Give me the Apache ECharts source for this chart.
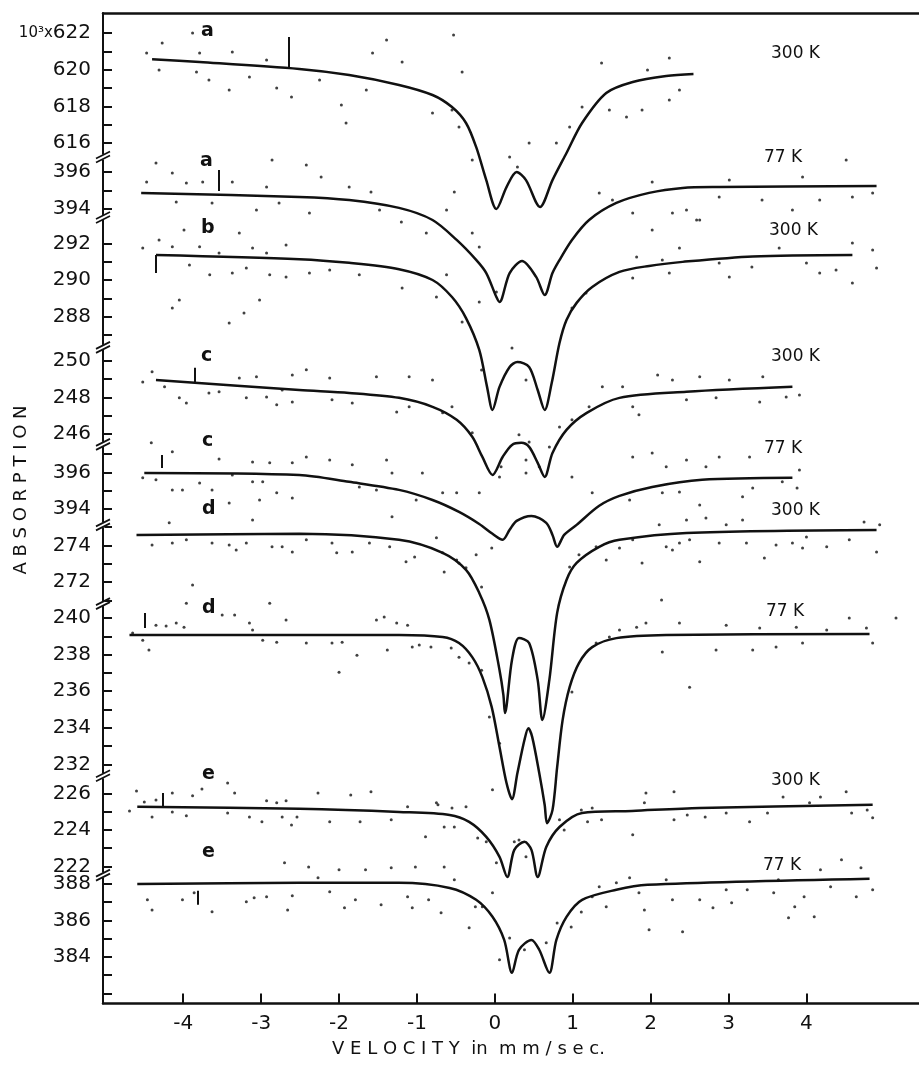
<!DOCTYPE html>
<html>
<head>
<meta charset="utf-8">
<title>Absorption vs velocity</title>
<script src="https://cdn.jsdelivr.net/npm/echarts@6/dist/echarts.min.js"></script>
<style>
	html, body { margin: 0; padding: 0; background: #fff; }
	#chart { width: 919px; height: 1071px; }
</style>
</head>
<body>
<div id="chart"></div>
<script type="text/javascript">
	// velocity axis (mm/sec)
	var velocityTicks = [-4, -3, -2, -1, 0, 1, 2, 3, 4];
	var velocityMin = -5.03;
	var velocityMax = 5.445;

	// broken absorption axis: one panel per spectrum, top to bottom (10^3 counts)
	var panelTop = [623.1, 396.8, 293.4, 250.7, 397.5, 275.1, 240.76, 226.93, 388.44];
	var panelBottom = [615.2, 393.5, 286.3, 245.4, 393.1, 270.8, 231.35, 221.5, 381.45];
	var panelLabels = [
		[622, 620, 618, 616], [396, 394], [292, 290, 288], [250, 248, 246], [396, 394],
		[274, 272], [240, 238, 236, 234, 232], [226, 224, 222], [388, 386, 384]
	];
	var panelTicks = [
		[622, 621, 620, 619, 618, 617, 616], [396, 395, 394], [292, 291, 290, 289, 288, 287],
		[250, 249, 248, 247, 246], [397, 396, 395, 394], [275, 274, 273, 272, 271],
		[240, 239, 238, 237, 236, 235, 234, 233, 232], [226, 225, 224, 223, 222],
		[388, 387, 386, 385, 384, 383, 382]
	];

	var sampleNames = ['a', 'a', 'b', 'c', 'c', 'd', 'd', 'e', 'e'];
	var temperatures = ['300 K', '77 K', '300 K', '300 K', '77 K', '300 K', '77 K', '300 K', '77 K'];

	// fitted curves [velocity, absorption]
	var curveA300 = [[-4.40,620.57],[-3.79,620.42],[-2.51,620.04],[-1.87,619.71],[-1.23,619.17],[-0.80,618.62],[-0.55,617.96],[-0.37,617.09],[-0.24,615.78],[-0.11,613.97],[0.02,612.39],[0.15,613.59],[0.28,614.41],[0.40,613.97],[0.58,612.50],[0.74,613.97],[0.92,615.45],[1.12,617.09],[1.43,618.73],[1.77,619.33],[2.20,619.66],[2.55,619.77]];
	var curveA77 = [[-4.54,394.87],[-2.51,394.65],[-1.87,394.48],[-1.23,394.05],[-0.80,393.39],[-0.49,392.30],[-0.24,391.21],[-0.11,390.49],[0.02,389.18],[0.06,388.91],[0.19,390.49],[0.35,391.15],[0.53,390.28],[0.64,389.29],[0.74,390.49],[0.83,391.20],[0.99,392.30],[1.21,393.39],[1.56,394.32],[1.98,394.87],[2.41,395.14],[2.88,395.19],[4.90,395.25]];
	var curveB300 = [[-4.35,291.38],[-2.51,291.15],[-1.87,290.95],[-1.23,290.60],[-0.80,290.01],[-0.55,289.08],[-0.37,287.93],[-0.20,286.19],[-0.10,284.17],[-0.03,282.91],[0.06,284.17],[0.19,285.26],[0.29,285.53],[0.44,285.26],[0.55,284.00],[0.64,282.91],[0.73,284.38],[0.83,286.57],[0.92,287.83],[1.05,288.76],[1.25,289.63],[1.60,290.45],[1.98,290.78],[2.41,291.00],[3.31,291.30],[4.59,291.38]];
	var curveC300 = [[-4.35,248.95],[-2.51,248.40],[-1.87,248.24],[-1.23,247.97],[-0.80,247.48],[-0.49,246.77],[-0.29,245.84],[-0.16,244.74],[-0.03,243.76],[0.10,244.74],[0.22,245.40],[0.34,245.51],[0.44,245.29],[0.55,244.42],[0.64,243.65],[0.74,244.96],[0.92,246.22],[1.18,247.15],[1.60,247.97],[2.46,248.30],[3.82,248.57]];
	var curveC77 = [[-4.50,395.97],[-2.51,395.86],[-1.87,395.48],[-1.23,395.04],[-0.80,394.49],[-0.46,393.84],[-0.20,393.18],[-0.03,392.64],[0.10,392.31],[0.19,392.86],[0.28,393.35],[0.47,393.62],[0.66,393.24],[0.74,392.58],[0.80,391.93],[0.89,392.58],[1.05,393.13],[1.34,394.17],[1.60,394.71],[2.02,395.20],[2.66,395.59],[3.82,395.70]];
	var curveD300 = [[-4.60,274.58],[-2.51,274.64],[-1.23,274.31],[-0.67,273.60],[-0.37,272.67],[-0.20,271.41],[-0.07,269.94],[0.06,267.20],[0.11,265.83],[0.13,264.85],[0.22,267.75],[0.31,268.95],[0.44,268.68],[0.55,266.66],[0.61,264.47],[0.70,266.66],[0.80,270.32],[0.92,272.12],[1.05,273.05],[1.34,273.93],[1.60,274.31],[2.46,274.69],[4.90,274.85]];
	var curveD77 = [[-4.69,239.07],[-2.51,239.07],[-1.23,239.07],[-0.67,238.96],[-0.46,238.63],[-0.29,237.86],[-0.16,236.77],[-0.04,235.13],[0.06,232.95],[0.15,230.98],[0.22,230.10],[0.29,231.53],[0.38,233.33],[0.43,233.98],[0.48,233.49],[0.57,231.53],[0.64,229.78],[0.67,228.79],[0.74,229.50],[0.80,231.85],[0.87,234.42],[0.96,236.22],[1.08,237.54],[1.25,238.41],[1.56,238.90],[2.20,239.07],[4.81,239.12]];
	var curveE300 = [[-4.59,225.26],[-2.51,225.15],[-1.23,224.98],[-0.58,224.82],[-0.33,224.44],[-0.11,223.62],[0.06,222.53],[0.16,221.43],[0.25,222.91],[0.38,223.35],[0.47,222.91],[0.55,221.43],[0.66,223.07],[0.83,224.16],[1.12,224.93],[1.76,225.04],[2.63,225.20],[4.85,225.37]];
	var curveE77 = [[-4.59,387.99],[-2.51,388.05],[-1.23,388.05],[-0.58,387.77],[-0.24,387.12],[-0.03,386.19],[0.12,384.93],[0.22,383.13],[0.31,384.39],[0.47,384.93],[0.57,384.39],[0.70,383.13],[0.79,384.93],[0.92,386.19],[1.12,387.12],[1.56,387.67],[1.96,387.94],[4.81,388.27]];
	var curves = [curveA300, curveA77, curveB300, curveC300, curveC77, curveD300, curveD77, curveE300, curveE77];

	// measured counts [velocity, absorption]
	var dotsA300 = [[-4.47,620.91],[-4.27,621.46],[-3.88,622.01],[-3.79,620.91],[-4.31,619.99],[-3.83,619.88],[-3.67,619.44],[-3.41,618.89],[-3.37,620.97],[-3.15,619.60],[-2.93,620.53],[-2.80,619.00],[-2.61,618.51],[-2.25,619.44],[-1.97,618.07],[-1.91,617.09],[-1.65,618.89],[-1.57,620.91],[-1.39,621.62],[-1.19,620.42],[-0.80,617.64],[-0.53,621.90],[-0.55,617.80],[-0.42,619.88],[-0.46,616.87],[-0.29,615.07],[0.19,615.23],[0.29,614.68],[0.44,616.00],[0.79,616.00],[0.96,616.87],[1.12,617.96],[1.37,620.37],[1.47,617.80],[1.69,617.42],[1.89,617.80],[1.96,619.99],[2.24,618.35],[2.24,620.64],[2.37,618.89]];
	var dotsA77 = [[-4.35,396.50],[-4.47,395.47],[-4.14,395.96],[-3.96,395.41],[-3.75,395.47],[-4.09,394.37],[-3.63,394.32],[-3.37,395.47],[-3.06,393.94],[-2.86,396.67],[-2.93,395.19],[-2.77,394.32],[-2.42,396.40],[-2.23,395.74],[-1.87,395.19],[-1.59,394.92],[-2.38,393.77],[-1.48,393.94],[-1.20,393.28],[-0.88,392.68],[-0.62,393.94],[-0.52,394.92],[-0.29,392.68],[-0.20,391.91],[-0.20,388.91],[0.02,389.46],[1.34,394.87],[1.51,394.48],[1.77,393.77],[2.02,392.84],[2.02,395.47],[2.28,393.77],[2.59,393.39],[2.46,393.94],[2.88,394.65],[3.01,395.58],[3.43,394.48],[3.82,393.94],[3.95,395.74],[4.17,394.48],[4.51,396.67],[4.59,394.65],[4.85,394.87]];
	var dotsB300 = [[-4.52,291.76],[-4.31,292.20],[-4.14,291.82],[-3.99,292.74],[-3.79,291.82],[-3.92,290.83],[-3.66,290.29],[-3.54,291.49],[-3.37,290.39],[-3.28,292.58],[-3.19,290.67],[-3.11,291.76],[-2.93,291.49],[-2.89,290.29],[-2.68,291.92],[-2.68,290.18],[-4.05,288.92],[-4.14,288.48],[-3.41,287.66],[-3.22,288.21],[-3.02,288.92],[-2.38,290.39],[-2.12,290.56],[-1.74,290.29],[-1.19,289.57],[-0.75,289.08],[-0.62,290.29],[-0.42,287.72],[-0.17,285.09],[0.22,286.30],[0.40,284.55],[0.99,288.48],[1.17,289.30],[1.77,290.12],[1.82,291.27],[2.15,291.10],[2.37,291.76],[2.24,290.39],[2.63,293.29],[2.88,290.94],[3.01,290.18],[3.30,290.72],[3.65,291.76],[4.00,290.94],[4.17,290.39],[4.38,290.56],[4.59,292.03],[4.59,289.85],[4.85,291.65],[4.90,290.67]];
	var dotsC300 = [[-4.52,248.84],[-4.40,249.39],[-4.24,248.57],[-4.05,247.97],[-3.96,247.69],[-3.67,248.24],[-3.54,248.30],[-3.28,249.06],[-3.06,249.12],[-3.19,247.97],[-2.93,248.02],[-2.80,247.59],[-2.73,248.40],[-2.60,249.22],[-2.60,247.75],[-2.42,249.50],[-2.12,249.06],[-2.09,247.86],[-1.83,247.69],[-1.52,249.12],[-1.26,247.20],[-1.10,249.12],[-1.10,247.48],[-0.80,248.95],[-0.67,247.15],[-0.55,247.48],[-0.29,246.06],[0.08,244.20],[0.31,245.95],[0.40,244.58],[0.44,245.56],[0.70,245.29],[0.83,246.38],[0.99,246.77],[1.21,247.48],[1.38,248.57],[1.64,248.57],[1.77,247.48],[1.85,247.04],[2.09,249.22],[2.28,248.95],[2.46,247.86],[2.63,249.12],[2.84,247.97],[3.01,248.95],[3.40,247.75],[3.44,249.12],[3.74,248.02],[3.91,248.13]];
	var dotsC77 = [[-4.41,397.61],[-4.14,397.12],[-3.54,396.73],[-4.52,395.70],[-4.35,395.59],[-4.14,395.04],[-4.01,395.04],[-3.79,395.42],[-3.63,395.04],[-3.37,395.86],[-3.11,396.57],[-2.89,396.52],[-3.11,395.48],[-2.98,395.48],[-2.80,394.88],[-2.60,396.52],[-2.60,394.60],[-2.42,396.84],[-2.12,396.68],[-1.83,396.41],[-1.74,395.20],[-1.52,395.04],[-1.39,396.68],[-1.32,395.97],[-1.01,394.49],[-1.32,393.57],[-0.93,395.97],[-0.67,394.88],[-0.49,394.88],[-0.20,394.88],[0.06,395.75],[0.40,395.97],[0.57,396.30],[0.99,395.75],[1.25,394.88],[1.73,394.49],[1.77,396.84],[2.02,397.06],[2.15,394.88],[2.20,396.30],[2.37,394.93],[2.46,396.68],[2.71,396.30],[2.63,394.22],[2.88,396.84],[3.18,394.66],[3.27,396.84],[3.31,395.15],[3.69,395.48],[3.88,395.15],[3.91,396.13]];
	var dotsD300 = [[-4.40,274.03],[-4.14,274.14],[-3.96,274.31],[-3.63,274.14],[-3.41,274.03],[-3.32,273.76],[-3.19,274.14],[-2.86,273.93],[-2.73,273.93],[-2.60,273.65],[-3.88,271.85],[-4.18,275.24],[-3.11,275.40],[-3.41,276.33],[-3.02,276.49],[-2.42,274.31],[-2.09,274.14],[-2.03,273.60],[-1.83,273.65],[-1.61,274.14],[-1.35,273.93],[-1.14,273.11],[-1.03,273.38],[-0.75,274.42],[-0.67,273.60],[-0.65,272.56],[-0.49,273.21],[-0.46,273.05],[-0.37,272.78],[-0.24,273.49],[-0.17,271.74],[-0.04,273.87],[0.96,272.83],[1.08,273.49],[1.30,273.93],[1.43,273.21],[1.60,273.87],[1.77,274.31],[1.89,273.05],[2.11,275.13],[2.20,273.93],[2.28,273.76],[2.37,274.14],[2.46,275.40],[2.50,274.31],[2.63,273.11],[2.71,275.51],[2.88,274.14],[2.97,275.13],[3.18,275.40],[3.23,274.14],[3.46,273.32],[3.61,274.03],[3.82,274.14],[3.95,273.87],[4.00,274.47],[4.26,273.93],[4.55,274.31],[4.74,275.29],[4.90,273.65],[4.94,275.13]];
	var dotsD77 = [[-4.65,239.18],[-4.52,238.79],[-4.44,238.25],[-4.35,239.61],[-4.22,239.56],[-4.09,239.72],[-3.99,239.50],[-3.96,240.81],[-3.50,240.16],[-3.34,240.16],[-3.15,239.72],[-2.89,240.81],[-3.11,239.34],[-2.98,238.79],[-2.80,238.68],[-2.68,239.89],[-2.42,238.63],[-2.09,238.63],[-1.96,238.68],[-1.77,237.97],[-2.00,237.04],[-1.52,239.89],[-1.42,240.05],[-1.26,239.72],[-1.12,239.61],[-1.38,238.25],[-1.06,238.41],[-0.97,238.52],[-0.82,238.41],[-0.56,238.36],[-0.46,237.86],[-0.33,237.54],[-0.17,237.15],[-0.07,234.59],[0.06,233.16],[0.99,235.95],[1.30,238.63],[1.47,238.96],[1.60,239.34],[1.82,239.50],[1.94,239.72],[2.14,240.98],[2.15,238.14],[2.37,239.72],[2.50,236.22],[2.84,238.25],[2.97,239.61],[3.31,238.25],[3.40,239.45],[3.61,238.41],[3.87,239.50],[3.95,238.63],[4.26,239.34],[4.55,240.00],[4.77,239.45],[4.85,238.63],[5.15,240.00]];
	var dotsE300 = [[-4.60,226.13],[-4.50,225.53],[-4.69,225.04],[-4.35,225.64],[-4.14,226.02],[-3.88,225.86],[-3.76,226.24],[-4.40,224.71],[-4.14,224.98],[-3.96,224.77],[-3.43,226.57],[-3.34,226.02],[-3.43,224.93],[-3.15,224.71],[-2.99,224.44],[-2.93,225.59],[-2.80,225.48],[-2.68,225.59],[-2.61,224.27],[-2.73,224.71],[-2.27,226.02],[-1.85,225.91],[-1.59,226.08],[-2.54,224.71],[-2.12,224.44],[-1.73,224.44],[-1.33,224.55],[-1.12,225.26],[-0.89,223.62],[-0.73,225.37],[-0.65,224.16],[-0.75,225.48],[-0.55,225.20],[-0.37,225.26],[-0.03,226.19],[-0.52,224.16],[-0.22,223.56],[-0.11,223.35],[0.02,222.20],[0.25,223.35],[0.31,223.45],[0.40,222.53],[0.83,224.55],[0.89,224.00],[1.11,225.09],[1.19,224.44],[1.25,225.20],[1.37,224.55],[1.77,223.73],[1.94,226.02],[1.92,225.48],[2.30,226.08],[2.30,224.55],[2.47,224.82],[2.70,224.71],[2.97,224.93],[3.27,224.44],[3.50,224.93],[3.70,225.80],[4.04,225.48],[4.18,225.80],[4.51,226.08],[4.58,224.93],[4.78,225.09],[4.85,224.66]];
	var dotsE77 = [[-4.46,387.12],[-4.40,386.57],[-4.01,387.12],[-3.86,387.51],[-3.63,386.47],[-3.19,387.01],[-3.09,387.23],[-2.93,387.29],[-2.66,386.57],[-2.60,387.34],[-2.70,389.14],[-2.39,388.92],[-2.27,388.32],[-2.12,387.56],[-1.93,386.68],[-2.00,388.76],[-1.79,387.12],[-1.66,388.76],[-1.46,386.85],[-1.33,388.87],[-1.12,387.29],[-1.02,388.92],[-1.06,386.68],[-0.85,387.12],[-0.69,386.41],[-0.65,388.92],[-0.52,388.21],[-0.33,385.59],[-0.25,386.74],[-0.16,386.74],[-0.03,387.51],[0.06,383.84],[0.19,385.04],[0.38,384.39],[0.66,384.77],[0.80,385.86],[0.98,385.64],[1.11,386.46],[1.25,387.29],[1.34,387.83],[1.43,386.74],[1.56,388.05],[1.73,388.32],[1.85,387.51],[1.92,386.57],[1.98,385.48],[2.20,388.21],[2.28,387.12],[2.41,385.37],[2.63,387.12],[2.80,386.68],[2.97,387.67],[3.04,386.96],[3.24,387.67],[3.58,387.51],[3.64,388.21],[3.77,386.14],[3.85,386.74],[3.97,387.29],[4.10,386.19],[4.18,388.76],[4.31,387.83],[4.45,389.31],[4.64,387.29],[4.70,388.87],[4.85,387.67]];
	var dots = [dotsA300, dotsA77, dotsB300, dotsC300, dotsC77, dotsD300, dotsD77, dotsE300, dotsE77];

	// error bar per spectrum [velocity, low, high]
	var errorBars = [[-2.65,620.09,621.79],[-3.54,394.97,396.12],[-4.35,290.39,291.38],[-3.85,248.79,249.61],[-4.28,396.24,396.95],[-3.50,274.69,275.50],[-4.49,239.45,240.27],[-4.26,225.26,226.02],[-3.82,386.85,387.61]];

	// layout
	var pxPerUnit = 18.3, plotTop = 13, plotLeft = 103;
	var letterPos = [[208,33],[207,163],[208,230],[208,358],[209,443],[209,511],[209,610],[209,776],[209,854]];
	var tempPos = [[797,55],[790,159],[795,232],[797,358],[790,450],[797,512],[792,613],[797,782],[789,867]];
	var ink = '#111';
	var font = 'DejaVu Sans';

	var grids = [], xAxes = [], yAxes = [], series = [], graphics = [];
	var y = plotTop, breaks = [];
	for (var i = 0; i < panelTop.length; i++) {
		var h = (panelTop[i] - panelBottom[i]) * pxPerUnit;
		grids.push({ left: plotLeft, right: 0, top: y, height: h });
		y += h;
		if (i < panelTop.length - 1) breaks.push(y);
		var last = (i == panelTop.length - 1);
		xAxes.push({
			gridIndex: i,
			type: 'value',
			min: velocityMin,
			max: velocityMax,
			show: (i == 0 || last),
			position: i == 0 ? 'top' : 'bottom',
			axisLine: { show: true, onZero: false, lineStyle: { color: ink, width: 2.5 } },
			axisTick: { show: last, inside: true, length: 10, customValues: velocityTicks, lineStyle: { color: ink, width: 2 } },
			axisLabel: { show: last, customValues: velocityTicks, margin: 10, fontSize: 20, color: ink, fontFamily: font },
			splitLine: { show: false }
		});
		yAxes.push({
			gridIndex: i,
			type: 'value',
			position: 'left',
			min: panelBottom[i],
			max: panelTop[i],
			axisLine: { show: true, onZero: false, lineStyle: { color: ink, width: 2 } },
			axisTick: { show: true, inside: true, length: 9, customValues: panelTicks[i], lineStyle: { color: ink, width: 2 } },
			axisLabel: {
				customValues: panelLabels[i],
				margin: 12,
				fontSize: 20,
				color: ink,
				fontFamily: font,
				formatter: function (v) {
					return v == 622 ? '{p|10³x}622' : String(v);
				},
				rich: { p: { fontSize: 15, color: ink, fontFamily: font } }
			},
			splitLine: { show: false }
		});
		var bar = errorBars[i];
		series.push({
			type: 'scatter',
			xAxisIndex: i,
			yAxisIndex: i,
			data: dots[i],
			symbolSize: 3,
			clip: false,
			itemStyle: { color: ink }
		});
		series.push({
			type: 'line',
			xAxisIndex: i,
			yAxisIndex: i,
			data: curves[i],
			smooth: 0.3,
			showSymbol: false,
			clip: false,
			lineStyle: { color: ink, width: 2.5 },
			markLine: {
				silent: true,
				symbol: ['none', 'none'],
				label: { show: false },
				lineStyle: { color: ink, width: 2, type: 'solid' },
				data: [[{ coord: [bar[0], bar[1]] }, { coord: [bar[0], bar[2]] }]]
			}
		});
		graphics.push({
			type: 'text', left: letterPos[i][0] - 7, top: letterPos[i][1] - 11,
			style: { text: sampleNames[i], fontSize: 19, fontWeight: 'bold', fill: ink, fontFamily: font }
		});
		graphics.push({
			type: 'text', left: tempPos[i][0] - 26, top: tempPos[i][1] - 10,
			style: { text: temperatures[i], fontSize: 17, fill: ink, fontFamily: font }
		});
	}

	// "//" marks where the absorption axis is broken
	breaks.forEach(function (by) {
		graphics.push({ type: 'rect', shape: { x: plotLeft - 2, y: by - 3, width: 4, height: 5 }, style: { fill: '#fff' }, z: 100 });
		graphics.push({ type: 'line', shape: { x1: plotLeft - 7, y1: by + 1, x2: plotLeft + 7, y2: by - 6 }, style: { stroke: ink, lineWidth: 1.8 }, z: 101 });
		graphics.push({ type: 'line', shape: { x1: plotLeft - 7, y1: by + 5, x2: plotLeft + 7, y2: by - 2 }, style: { stroke: ink, lineWidth: 1.8 }, z: 101 });
	});

	graphics.push({
		type: 'text', left: 332, top: 1040,
		style: { text: 'V E L O C I T Y  in  m m / s e c.', fontSize: 18, fill: ink, fontFamily: font }
	});
	graphics.push({
		type: 'text', x: 21, y: 490, rotation: Math.PI / 2,
		style: { text: 'A B S O R P T I O N', fontSize: 18, fill: ink, fontFamily: font, align: 'center', verticalAlign: 'middle' }
	});

	var myChart = echarts.init(document.getElementById('chart'));
	myChart.setOption({
		animation: false,
		backgroundColor: '#fff',
		grid: grids,
		xAxis: xAxes,
		yAxis: yAxes,
		series: series,
		graphic: graphics
	});
</script>
</body>
</html>
